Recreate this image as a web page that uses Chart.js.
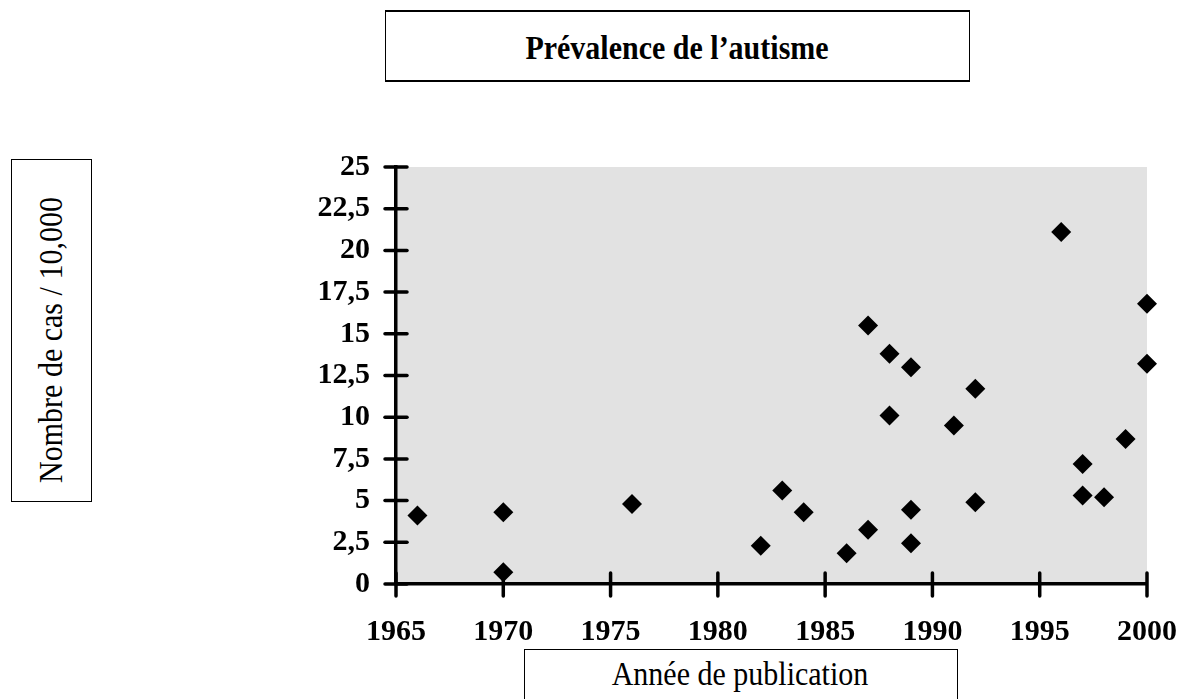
<!DOCTYPE html>
<html>
<head>
<meta charset="utf-8">
<script src="https://cdn.jsdelivr.net/npm/chart.js@4"></script>
<style>
    body { margin: 0; background: #fff; }
    #wrap { position: relative; width: 1184px; height: 699px; overflow: hidden; }
    .box { position: absolute; border: 1.5px solid #000; box-sizing: border-box; background: #fff; }
    .label { position: absolute; font-family: "Liberation Serif", "Times New Roman", serif; color: #000; white-space: nowrap; font-size: 30px; line-height: 36px; }
</style>
</head>
<body>
<div id="wrap">
    <canvas id="prevalenceChart"></canvas>

    <div class="box" style="left:385px; top:10px; width:585px; height:72px; border-top-width:2px; border-bottom-width:2.5px;"></div>
    <div class="label" style="left:677px; top:29px; transform:translateX(-50%) scaleY(1.15); font-weight:bold;">Prévalence de l’autisme</div>

    <div class="box" style="left:11px; top:159px; width:81px; height:343px;"></div>
    <div class="label" style="left:51px; top:340px; transform:translate(-50%,-50%) rotate(-90deg) scaleY(1.1);">Nombre de cas / 10,000</div>

    <div class="box" style="left:524px; top:649px; width:434px; height:80px;"></div>
    <div class="label" style="left:740px; top:656px; transform:translateX(-50%) scaleY(1.1);">Année de publication</div>
</div>

<script>
// data
const years = [1966, 1970, 1970, 1976, 1982, 1983, 1984, 1986, 1987, 1987, 1988, 1988, 1989, 1989, 1989,
    1991, 1992, 1992, 1996, 1997, 1997, 1998, 1999, 2000, 2000];
const cases = [4.1, 4.3, 0.7, 4.8, 2.3, 5.6, 4.3, 1.85, 3.25, 15.5, 10.1, 13.8, 4.45, 2.45, 13.0,
    9.5, 11.7, 4.9, 21.1, 7.2, 5.3, 5.2, 8.7, 16.8, 13.2];

const xTicks = [1965, 1970, 1975, 1980, 1985, 1990, 1995, 2000];
const yTicks = [0, 2.5, 5, 7.5, 10, 12.5, 15, 17.5, 20, 22.5, 25];

Chart.defaults.font.family = '"Liberation Serif", "Times New Roman", serif';
Chart.defaults.color = '#000';

const plotBackground = {
    id: 'plotBackground',
    beforeDraw(chart) {
        const { ctx, chartArea } = chart;
        ctx.save();
        ctx.fillStyle = '#e2e2e2';
        ctx.fillRect(chartArea.left, chartArea.top, chartArea.right - chartArea.left, chartArea.bottom - chartArea.top);
        ctx.restore();
    }
};

// tick marks that cross the axis lines
const crossTicks = {
    id: 'crossTicks',
    afterDatasetsDraw(chart) {
        const { ctx, scales: { x, y }, chartArea } = chart;
        ctx.save();
        ctx.strokeStyle = '#000';
        ctx.lineWidth = 3.5;
        ctx.lineCap = 'round';
        yTicks.forEach(v => {
            const py = y.getPixelForValue(v);
            ctx.beginPath();
            ctx.moveTo(chartArea.left - 11, py);
            ctx.lineTo(chartArea.left + 11, py);
            ctx.stroke();
        });
        xTicks.forEach(v => {
            const px = x.getPixelForValue(v);
            ctx.beginPath();
            ctx.moveTo(px, chartArea.bottom - 11);
            ctx.lineTo(px, chartArea.bottom + 12);
            ctx.stroke();
        });
        ctx.restore();
    }
};

const ctx = document.getElementById('prevalenceChart').getContext('2d');
new Chart(ctx, {
    type: 'scatter',
    data: {
        datasets: [{
            data: years.map((yr, i) => ({ x: yr, y: cases[i] })),
            pointStyle: 'rectRot',
            pointRadius: 10,
            pointBackgroundColor: '#000',
            pointBorderWidth: 0,
            clip: false
        }]
    },
    options: {
        responsive: true,
        maintainAspectRatio: false,
        animation: false,
        layout: { padding: { top: 167, right: 37, left: 0, bottom: 0 } },
        plugins: {
            legend: { display: false },
            tooltip: { enabled: false }
        },
        scales: {
            x: {
                type: 'linear',
                min: 1965,
                max: 2000,
                afterBuildTicks: s => { s.ticks = xTicks.map(v => ({ value: v })); },
                afterFit: s => { s.height = 115; s.paddingLeft = 0; s.paddingRight = 0; },
                grid: { display: false, drawTicks: false },
                border: { display: true, color: '#000', width: 3.5 },
                ticks: {
                    padding: 30,
                    maxRotation: 0,
                    font: { size: 30, weight: 'bold' },
                    callback: v => String(v)
                }
            },
            y: {
                min: 0,
                max: 25,
                afterBuildTicks: s => { s.ticks = yTicks.map(v => ({ value: v })); },
                afterFit: s => { s.width = 396; s.paddingTop = 0; s.paddingBottom = 0; },
                grid: { display: false, drawTicks: false },
                border: { display: true, color: '#000', width: 3.5 },
                ticks: {
                    padding: 26,
                    font: { size: 30, weight: 'bold' },
                    callback: v => String(v).replace('.', ',')
                }
            }
        }
    },
    plugins: [plotBackground, crossTicks]
});
</script>
</body>
</html>
